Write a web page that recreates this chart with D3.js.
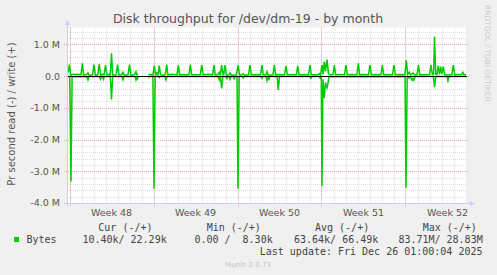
<!DOCTYPE html>
<html>
<head>
<meta charset="utf-8">
<script src="https://cdn.jsdelivr.net/npm/d3@7"></script>
<style>
  body { margin: 0; background: #f0f0f0; }
  svg { display: block; }
  text { font-family: "DejaVu Sans", sans-serif; fill: #555; }
  .mono { font-family: "DejaVu Sans Mono", monospace; font-size: 10px; white-space: pre; fill: #444; }
</style>
</head>
<body>
<svg width="497" height="275"></svg>
<script>
// day offsets from Mon 2025-11-24 00:00, values in MB/s
const writeSeries = [
  [-0.2, 0.29], [-0.1, 0.12], [-0.01, 0.36], [0.1, 0.03], [0.3, 0.06], [0.5, 0.05], [0.7, 0.06], [0.95, 0.04],
  [1.07, 0.40], [1.18, 0.04], [1.42, 0.05], [1.54, 0.10], [1.64, 0.02], [1.92, 0.04],
  [2.04, 0.36], [2.15, 0.04], [2.36, 0.05], [2.48, 0.38], [2.6, 0.02], [2.75, 0.06], [2.88, 0.04],
  [3.0, 0.35], [3.12, 0.04], [3.3, 0.05], [3.4, 0.04], [3.5, 0.72], [3.6, 0.03], [3.88, 0.04],
  [4.0, 0.36], [4.12, 0.04], [4.34, 0.05], [4.46, 0.12], [4.56, 0.03], [4.88, 0.04],
  [5.0, 0.36], [5.12, 0.03], [5.42, 0.05], [5.54, 0.14], [5.62, 0.04], [5.72, 0.05], [5.73, null],
  [6.56, 0.03], [6.7, 0.05], [6.95, 0.04], [7.07, 0.33], [7.17, 0.05], [7.27, 0.10], [7.37, 0.04],
  [7.48, 0.33], [7.58, 0.04], [7.8, 0.03], [7.98, 0.05],
  [8.1, 0.36], [8.2, 0.04], [8.5, 0.06], [8.75, 0.05], [8.95, 0.04],
  [9.07, 0.34], [9.18, 0.04], [9.5, 0.05], [9.95, 0.04],
  [10.07, 0.36], [10.18, 0.04], [10.5, 0.04], [10.9, 0.05],
  [11.02, 0.35], [11.14, 0.04], [11.6, 0.06], [11.92, 0.04],
  [12.04, 0.35], [12.14, 0.04], [12.36, 0.05], [12.48, 0.12], [12.56, 0.04], [12.68, 0.35], [12.8, 0.04],
  [12.86, 0.05], [12.96, 0.35], [13.08, 0.03], [13.28, 0.04], [13.38, 0.10], [13.5, 0.03], [13.9, 0.04],
  [14.06, 0.35], [14.16, 0.04], [14.38, 0.04], [14.48, 0.08], [14.58, 0.03], [14.92, 0.04],
  [15.04, 0.35], [15.15, 0.04], [15.5, 0.05], [15.92, 0.04],
  [16.04, 0.35], [16.14, 0.04], [16.36, 0.04], [16.46, 0.14], [16.56, 0.03], [16.95, 0.04],
  [17.07, 0.35], [17.18, 0.04], [17.45, 0.05], [17.92, 0.04],
  [18.04, 0.32], [18.15, 0.04], [18.55, 0.05], [18.9, 0.04],
  [19.02, 0.32], [19.13, 0.04], [19.5, 0.05], [19.92, 0.04],
  [20.04, 0.35], [20.15, 0.04], [20.7, 0.04], [20.82, 0.08], [20.92, 0.04],
  [21.04, 0.35], [21.13, 0.06], [21.23, 0.46], [21.33, 0.15], [21.46, 0.52], [21.58, 0.08], [21.7, 0.04], [21.95, 0.04],
  [22.07, 0.35], [22.18, 0.04], [22.5, 0.05], [22.92, 0.04],
  [23.04, 0.35], [23.15, 0.04], [23.5, 0.05], [23.95, 0.04],
  [24.07, 0.40], [24.18, 0.04], [24.5, 0.05], [24.92, 0.04],
  [25.04, 0.35], [25.15, 0.04], [25.5, 0.05], [25.95, 0.04],
  [26.07, 0.35], [26.18, 0.04], [26.55, 0.05], [26.92, 0.04],
  [27.04, 0.35], [27.15, 0.04], [27.5, 0.05], [27.95, 0.04],
  [28.07, 0.50], [28.18, 0.05], [28.32, 0.12], [28.42, 0.04], [28.52, 0.06], [28.62, 0.10], [28.72, 0.04], [28.96, 0.04],
  [29.08, 0.35], [29.19, 0.04], [29.6, 0.05], [30.0, 0.04],
  [30.12, 0.35], [30.24, 0.05], [30.34, 0.05], [30.42, 1.25], [30.52, 0.06], [30.62, 0.05], [30.73, 0.33],
  [30.83, 0.05], [30.93, 0.30], [31.03, 0.06], [31.15, 0.30], [31.26, 0.04], [31.6, 0.04], [31.86, 0.04],
  [31.98, 0.35], [32.1, 0.04], [32.4, 0.05], [32.65, 0.04], [32.77, 0.12], [32.87, 0.04], [33.04, 0.05],
];

const readSeries = [
  [-0.2, -0.01], [0.02, -0.02], [0.12, -3.32], [0.22, -0.02], [1.42, -0.01], [1.54, -0.12], [1.64, -0.01],
  [2.48, -0.01], [2.58, -0.10], [2.68, -0.01], [2.75, -0.01], [2.83, -0.10], [2.92, -0.01],
  [3.4, -0.01], [3.5, -0.74], [3.6, -0.01], [4.36, -0.01], [4.46, -0.12], [4.56, -0.01],
  [5.44, -0.01], [5.54, -0.12], [5.62, -0.03], [5.68, -0.08], [5.72, -0.01], [5.73, null],
  [6.56, -0.05], [6.66, -0.01], [6.95, -0.01], [7.04, -3.55], [7.14, -0.01], [7.4, -0.01], [7.5, -0.05], [7.6, -0.01],
  [7.94, -0.01], [8.04, -0.12], [8.14, -0.01],
  [12.38, -0.01], [12.48, -0.12], [12.58, -0.01], [12.68, -0.39], [12.78, -0.01], [13.02, -0.01], [13.12, -0.08],
  [13.22, -0.01], [13.3, -0.01], [13.38, -0.10], [13.48, -0.01], [13.62, -0.01], [13.72, -0.08], [13.82, -0.01],
  [13.96, -0.01], [14.04, -3.55], [14.14, -0.01], [14.38, -0.01], [14.48, -0.06], [14.58, -0.01],
  [15.94, -0.01], [16.04, -0.07], [16.14, -0.01], [16.38, -0.01], [16.46, -0.14], [16.54, -0.04], [16.62, -0.10], [16.7, -0.01],
  [17.3, -0.01], [17.4, -0.44], [17.5, -0.01],
  [20.02, -0.01], [20.12, -0.07], [20.22, -0.01], [20.8, -0.01], [20.9, -0.07], [20.98, -0.01],
  [21.04, -3.47], [21.12, -0.10], [21.23, -0.69], [21.33, -0.20], [21.46, -0.37], [21.52, -0.28], [21.62, -0.02],
  [27.96, -0.01], [28.04, -3.52], [28.14, -0.02], [28.32, -0.06], [28.42, -0.02], [28.55, -0.13], [28.62, -0.08],
  [28.7, -0.13], [28.8, -0.01], [30.32, -0.01], [30.42, -0.35], [30.52, -0.01],
  [31.44, -0.01], [31.54, -0.15], [31.64, -0.01], [33.04, -0.01],
];

const yTicks = [-4, -3, -2, -1, 0, 1];
const weekLabels = ["Week 48", "Week 49", "Week 50", "Week 51", "Week 52"];
const legendHeaders = ["Cur (-/+)", "Min (-/+)", "Avg (-/+)", "Max (-/+)"];
const legendValues = ["10.40k/ 22.29k", "0.00 /  8.30k", "63.64k/ 66.49k", "83.71M/ 28.83M"];

const DAY = 864e5;
const t0 = Date.UTC(2025, 10, 24);
const toDate = (d) => new Date(t0 + d * DAY);

const pL = 67, pR = 467, pT = 28.5, pB = 203;

const svg = d3.select("svg");

const x = d3.scaleUtc()
  .domain([toDate(-2.5 / 12), toDate(397.5 / 12)])
  .range([pL, pR]);

const y = d3.scaleLinear().domain([-4, 1.5]).range([pB, pT]);

svg.append("rect")
  .attr("x", pL).attr("y", pT - 1)
  .attr("width", pR - pL).attr("height", pB - pT + 1)
  .attr("fill", "#fff");

// minor grid
const days = d3.utcDay.range(x.domain()[0], x.domain()[1]);
svg.append("g")
  .selectAll("line")
  .data(days)
  .join("line")
  .attr("x1", (d) => Math.round(x(d)) + 0.5).attr("x2", (d) => Math.round(x(d)) + 0.5)
  .attr("y1", pT - 1).attr("y2", pB)
  .attr("stroke", "#ddd").attr("stroke-dasharray", "1,1");

svg.append("g")
  .selectAll("line")
  .data(d3.range(-40, 16, 2).map((v) => v / 10).filter((v) => v % 1 !== 0))
  .join("line")
  .attr("x1", pL).attr("x2", pR)
  .attr("y1", (d) => Math.round(y(d)) + 0.5).attr("y2", (d) => Math.round(y(d)) + 0.5)
  .attr("stroke", "#ddd").attr("stroke-dasharray", "1,1");

// major grid
const weeks = d3.utcMonday.range(x.domain()[0], x.domain()[1]);
svg.append("g")
  .selectAll("line")
  .data(weeks)
  .join("line")
  .attr("x1", (d) => Math.round(x(d)) + 0.5).attr("x2", (d) => Math.round(x(d)) + 0.5)
  .attr("y1", pT - 1).attr("y2", pB + 4)
  .attr("stroke", "#e6a8a8").attr("stroke-dasharray", "1,1");

svg.append("g")
  .selectAll("line")
  .data(yTicks)
  .join("line")
  .attr("x1", pL - 3).attr("x2", pR + 2)
  .attr("y1", (d) => Math.round(y(d)) + 0.5).attr("y2", (d) => Math.round(y(d)) + 0.5)
  .attr("stroke", "#e6a8a8").attr("stroke-dasharray", "1,1");

// y labels
svg.append("g")
  .selectAll("text")
  .data(yTicks)
  .join("text")
  .attr("x", 60).attr("y", (d) => y(d))
  .attr("dy", "0.36em")
  .attr("text-anchor", "end")
  .style("font-size", "9.5px")
  .text((d) => (d === 0 ? "0.0" : `${d.toFixed(1)} M`));

// week labels
svg.append("g")
  .selectAll("text")
  .data(weeks)
  .join("text")
  .attr("x", (d) => x(d3.utcHour.offset(d, 84)))
  .attr("y", 216)
  .attr("text-anchor", "middle")
  .style("font-size", "9.5px")
  .text((d, i) => weekLabels[i]);

// series
const line = d3.line()
  .defined((d) => d[1] !== null)
  .x((d) => x(toDate(d[0])))
  .y((d) => y(d[1]));

svg.append("clipPath").attr("id", "plot")
  .append("rect").attr("x", pL).attr("y", pT - 2)
  .attr("width", pR - pL).attr("height", pB - pT + 2);

const series = svg.append("g").attr("clip-path", "url(#plot)");
[readSeries, writeSeries].forEach((s) => {
  series.append("path")
    .attr("d", line(s))
    .attr("fill", "none")
    .attr("stroke", "#00cc00")
    .attr("stroke-width", 1.5);
});

// zero line
svg.append("line")
  .attr("x1", pL).attr("x2", pR)
  .attr("y1", Math.round(y(0)) + 0.5).attr("y2", Math.round(y(0)) + 0.5)
  .attr("stroke", "#000");

// axes with arrows
svg.append("line")
  .attr("x1", pL + 0.5).attr("x2", pL + 0.5)
  .attr("y1", 24).attr("y2", pB + 3)
  .attr("stroke", "#ccf");
svg.append("path")
  .attr("d", `M${pL - 2},25L${pL + 3},25L${pL + 0.5},20Z`)
  .attr("fill", "#ccf");
svg.append("line")
  .attr("x1", pL - 3).attr("x2", pR + 4)
  .attr("y1", pB + 0.5).attr("y2", pB + 0.5)
  .attr("stroke", "#ccf");
svg.append("path")
  .attr("d", `M${pR + 3},${pB - 2}L${pR + 3},${pB + 3}L${pR + 8},${pB + 0.5}Z`)
  .attr("fill", "#ccf");

// titles
svg.append("text")
  .attr("x", 248).attr("y", 23)
  .attr("text-anchor", "middle")
  .style("font-size", "12.5px")
  .text("Disk throughput for /dev/dm-19 - by month");

svg.append("text")
  .attr("transform", "translate(14.5,114) rotate(-90)")
  .attr("text-anchor", "middle")
  .style("font-size", "10px")
  .text("Pr second read (-) / write (+)");

svg.append("text")
  .attr("transform", "translate(485,5) rotate(90)")
  .style("font-size", "7.5px")
  .style("fill", "#ccc")
  .text("RRDTOOL / TOBI OETIKER");

// legend
const headerX = [98.3, 206.7, 315, 422.7];
const valueEnd = [166.7, 272.7, 378.3, 482.7];

svg.append("g")
  .selectAll("text")
  .data(legendHeaders)
  .join("text")
  .attr("class", "mono")
  .attr("x", (d, i) => headerX[i]).attr("y", 231)
  .text((d) => d);

svg.append("rect")
  .attr("x", 14).attr("y", 237).attr("width", 5).attr("height", 5)
  .attr("fill", "#00cc00");
svg.append("text").attr("class", "mono").attr("x", 26.5).attr("y", 243).text("Bytes");

svg.append("g")
  .selectAll("text")
  .data(legendValues)
  .join("text")
  .attr("class", "mono")
  .attr("x", (d, i) => valueEnd[i]).attr("y", 243)
  .attr("text-anchor", "end")
  .text((d) => d);

svg.append("text")
  .attr("class", "mono")
  .attr("x", 482.5).attr("y", 254.5)
  .attr("text-anchor", "end")
  .text("Last update: Fri Dec 26 01:00:04 2025");

svg.append("text")
  .attr("x", 248).attr("y", 266.5)
  .attr("text-anchor", "middle")
  .style("font-size", "7px")
  .style("fill", "#c4c4c4")
  .text("Munin 2.0.73");
</script>
</body>
</html>
